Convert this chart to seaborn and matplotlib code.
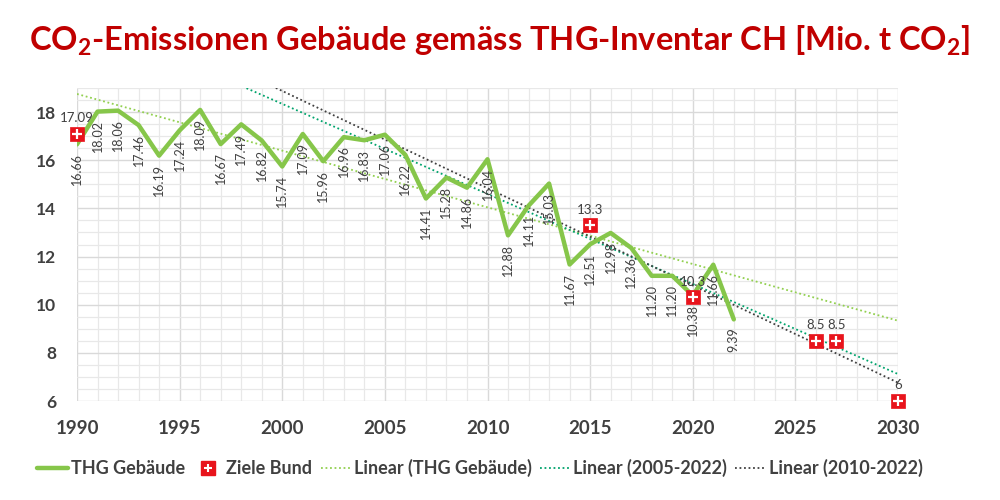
import pandas as pd
import numpy as np
import matplotlib.pyplot as plt
import seaborn as sns
from matplotlib.lines import Line2D
from matplotlib.legend_handler import HandlerTuple

# Werte aus dem THG-Inventar (Gebäude), Mio. t CO2
years = list(range(1990, 2023))
emissions = [16.66, 18.02, 18.06, 17.46, 16.19, 17.24, 18.09, 16.67, 17.49, 16.82,
             15.74, 17.09, 15.96, 16.96, 16.83, 17.06, 16.22, 14.41, 15.28, 14.86,
             16.04, 12.88, 14.11, 15.03, 11.67, 12.51, 12.98, 12.36, 11.20, 11.20,
             10.38, 11.66, 9.39]

# Ziele Bund
target_years = [1990, 2015, 2020, 2026, 2027, 2030]
target_values = [17.09, 13.3, 10.3, 8.5, 8.5, 6]
target_labels = ['17.09', '13.3', '10.3', '8.5', '8.5', '6']

df = pd.DataFrame({'Jahr': years, 'CO2': emissions})
df_targets = pd.DataFrame({'Jahr': target_years, 'Ziel': target_values})

sns.set_style('white')
plt.rcParams['font.family'] = ['Lato', 'DejaVu Sans']
# Subskript im Titel ebenfalls fett in Lato
plt.rcParams['mathtext.fontset'] = 'custom'
plt.rcParams['mathtext.rm'] = 'Lato:bold'
plt.rcParams['mathtext.default'] = 'rm'

GREEN = '#86C64A'
LIGHT = '#92D050'
TEAL = '#00A36C'
DARK = '#404040'
RED = '#E8141C'
TXT = '#404040'
DOT = (0, (1, 1.5))

fig = plt.figure(figsize=(10, 5), dpi=100)
ax = fig.add_axes([0.077, 0.198, 0.821, 0.626])
ax.set_xlim(1990, 2030)
ax.set_ylim(6, 19)

# Gitter
ax.set_xticks(range(1990, 2031, 5))
ax.set_xticks(range(1990, 2031, 1), minor=True)
ax.set_yticks(range(6, 19, 2))
ax.set_yticks(np.arange(6, 19.01, 0.5), minor=True)
ax.grid(True, which='major', color='#D9D9D9', lw=1.0)
ax.grid(True, which='minor', color='#E8E8E8', lw=0.9)
ax.set_axisbelow(True)
for s in ax.spines.values():
    s.set_visible(False)
ax.tick_params(which='both', length=0)
ax.tick_params(axis='x', labelsize=13.5, labelcolor=TXT, pad=14)
ax.tick_params(axis='y', labelsize=12.5, labelcolor=TXT, pad=15)
for lab in ax.get_xticklabels() + ax.get_yticklabels():
    lab.set_fontweight('bold')

# Trendlinien
sns.regplot(x='Jahr', y='CO2', data=df, ax=ax, scatter=False, ci=None, truncate=False,
            line_kws=dict(color=LIGHT, lw=1.3, ls=DOT))
sns.regplot(x='Jahr', y='CO2', data=df[df['Jahr'] >= 2005], ax=ax, scatter=False, ci=None,
            truncate=False, line_kws=dict(color=TEAL, lw=1.3, ls=DOT))
sns.regplot(x='Jahr', y='CO2', data=df[df['Jahr'] >= 2010], ax=ax, scatter=False, ci=None,
            truncate=False, line_kws=dict(color=DARK, lw=1.3, ls=DOT))

# Hauptlinie
sns.lineplot(x='Jahr', y='CO2', data=df, ax=ax, color=GREEN, lw=3.2)

# Ziele
sns.scatterplot(x='Jahr', y='Ziel', data=df_targets, ax=ax, marker='s', s=110,
                color=RED, edgecolor=RED, linewidth=0.5, clip_on=False, zorder=5)
sns.scatterplot(x='Jahr', y='Ziel', data=df_targets, ax=ax, marker='+', s=55,
                color='white', linewidth=1.6, clip_on=False, zorder=6)

ax.set_xlim(1990, 2030)
ax.set_ylim(6, 19)
ax.set_xlabel('')
ax.set_ylabel('')

# Datenbeschriftungen
for x, y in zip(years, emissions):
    ax.annotate(f'{y:.2f}', (x, y), xytext=(0, -6), textcoords='offset points',
                rotation=90, ha='center', va='top', fontsize=9, color=TXT)
for x, y, t in zip(target_years, target_values, target_labels):
    ax.annotate(t, (x, y), xytext=(0, 7), textcoords='offset points',
                ha='center', va='bottom', fontsize=9.5, color=TXT, annotation_clip=False)

# Titel
fig.text(0.5, 0.918, 'CO$_2$-Emissionen Gebäude gemäss THG-Inventar CH [Mio. t CO$_2$]',
         ha='center', va='center', fontsize=23.5, fontweight='bold', color='#C00000')

# Legende
h_main = Line2D([], [], color=GREEN, lw=3.2)
h_sq = Line2D([], [], marker='s', color=RED, ls='', markersize=9.5)
h_pl = Line2D([], [], marker='+', color='white', ls='', markersize=6, mew=1.5)
h_l1 = Line2D([], [], color=LIGHT, lw=1.3, ls=DOT)
h_l2 = Line2D([], [], color=TEAL, lw=1.3, ls=DOT)
h_l3 = Line2D([], [], color=DARK, lw=1.3, ls=DOT)
leg = fig.legend([h_main, (h_sq, h_pl), h_l1, h_l2, h_l3],
                 ['THG Gebäude', 'Ziele Bund', 'Linear (THG Gebäude)',
                  'Linear (2005-2022)', 'Linear (2010-2022)'],
                 handler_map={tuple: HandlerTuple(ndivide=1, pad=0)},
                 loc='center', bbox_to_anchor=(0.48, 0.064), ncol=5, frameon=False,
                 handlelength=1.7, handletextpad=0.15, columnspacing=0.45,
                 prop={'size': 13, 'weight': 'bold'})
for t in leg.get_texts():
    t.set_color(TXT)

plt.savefig('out.png', dpi=100)
